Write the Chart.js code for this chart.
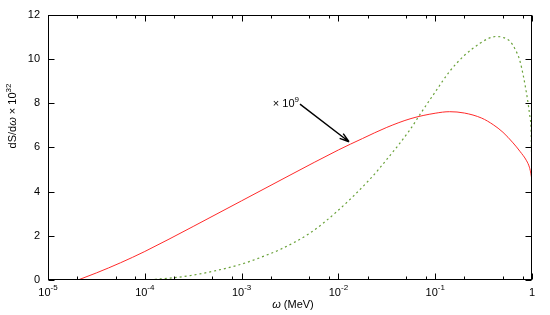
<!DOCTYPE html>
<html>
<head>
<meta charset="utf-8">
<script src="https://cdn.jsdelivr.net/npm/chart.js@4"></script>
<style>
  html, body { margin: 0; padding: 0; background: #fff; }
  #wrap { width: 550px; height: 315px; }
</style>
</head>
<body>
<div id="wrap"><canvas id="chart"></canvas></div>
<script>
// values
const redOmega   = [2.04e-5, 3.16e-5, 5.62e-5, 1e-4, 3.16e-4, 1e-3, 3.16e-3, 1e-2, 1.78e-2, 3.16e-2, 5.62e-2, 0.1, 0.141, 0.2, 0.302, 0.398, 0.501, 0.637, 0.75, 0.879, 0.94, 0.975, 1];
const redValue   = [0, 0.32, 0.78, 1.29, 2.42, 3.58, 4.74, 5.88, 6.4, 6.9, 7.3, 7.54, 7.61, 7.55, 7.32, 7.02, 6.68, 6.2, 5.82, 5.39, 5.1, 4.8, 4.5];
const greenOmega = [1e-4, 1.95e-4, 3.16e-4, 1e-3, 2e-3, 2.5e-3, 5e-3, 9.5e-3, 2.14e-2, 3.16e-2, 5.5e-2, 7e-2, 0.1, 0.142, 0.2, 0.29, 0.355, 0.425, 0.5, 0.593, 0.676, 0.752, 0.881, 0.955, 0.99, 1];
const greenValue = [0, 0.1, 0.22, 0.72, 1.2, 1.38, 2.1, 3.07, 4.58, 5.45, 6.8, 7.5, 8.5, 9.45, 10.15, 10.7, 10.92, 11.01, 10.97, 10.79, 10.4, 9.89, 8.4, 7.34, 5.6, 0];

const xDecades  = [1e-5, 1e-4, 1e-3, 1e-2, 1e-1, 1];
const xExponent = ['-5', '-4', '-3', '-2', '-1', ''];
const xMinor    = [2, 5, 8];
const yTicks    = [0, 2, 4, 6, 8, 10, 12];

// annotation "x 10^9" arrow, in data coordinates
const arrowFrom = { x: 0.00401, y: 7.95 };
const arrowTo   = { x: 0.01287, y: 6.25 };

const FONT = '"Liberation Sans", Arial, sans-serif';

function pts(xs, ys) {
	return xs.map((v, i) => ({ x: v, y: ys[i] }));
}

// draws text made of parts; each part: [text, size, rise, italic]
function drawParts(ctx, parts, x, y, align) {
	let total = 0;
	parts.forEach(p => {
		ctx.font = (p[3] ? 'italic ' : '') + p[1] + 'px ' + FONT;
		total += ctx.measureText(p[0]).width;
	});
	let cx = align === 'center' ? x - total / 2 : (align === 'right' ? x - total : x);
	ctx.textAlign = 'left';
	ctx.textBaseline = 'alphabetic';
	parts.forEach(p => {
		ctx.font = (p[3] ? 'italic ' : '') + p[1] + 'px ' + FONT;
		ctx.fillText(p[0], cx, y - p[2]);
		cx += ctx.measureText(p[0]).width;
	});
}

const framePlugin = {
	id: 'frame',
	afterDatasetsDraw(chart) {
		const ctx = chart.ctx;
		const a = chart.chartArea;
		const xs = chart.scales.x, ys = chart.scales.y;
		const L = Math.round(a.left) + 0.5, R = Math.round(a.right) - 0.5;
		const T = Math.round(a.top) + 0.5, B = Math.round(a.bottom) - 0.5;
		ctx.save();
		ctx.strokeStyle = '#000';
		ctx.lineWidth = 1;
		ctx.strokeRect(L, T, R - L, B - T);

		// inward ticks on all four sides
		ctx.beginPath();
		xDecades.forEach((d, i) => {
			const px = Math.round(xs.getPixelForValue(d)) + 0.5;
			ctx.moveTo(px, B); ctx.lineTo(px, B - 6);
			ctx.moveTo(px, T); ctx.lineTo(px, T + 6);
			if (i < xDecades.length - 1) {
				xMinor.forEach(m => {
					const mx = Math.round(xs.getPixelForValue(d * m)) + 0.5;
					ctx.moveTo(mx, B); ctx.lineTo(mx, B - 3);
					ctx.moveTo(mx, T); ctx.lineTo(mx, T + 3);
				});
			}
		});
		yTicks.forEach(v => {
			const py = Math.round(ys.getPixelForValue(v)) + 0.5;
			ctx.moveTo(L, py); ctx.lineTo(L + 6, py);
			ctx.moveTo(R, py); ctx.lineTo(R - 6, py);
		});
		ctx.stroke();

		// x tick labels
		ctx.fillStyle = '#000';
		xDecades.forEach((d, i) => {
			const px = xs.getPixelForValue(d);
			if (xExponent[i] === '') {
				drawParts(ctx, [['1', 11, 0]], px, a.bottom + 16, 'center');
			} else {
				drawParts(ctx, [['10', 11, 0], [xExponent[i], 8, 6]], px, a.bottom + 16, 'center');
			}
		});

		// axis titles
		drawParts(ctx, [['\u03c9', 11, 0, true], [' (MeV)', 11, 0]], (a.left + a.right) / 2 + 3, a.bottom + 28, 'center');
		ctx.save();
		ctx.translate(16, 116);
		ctx.rotate(-Math.PI / 2);
		drawParts(ctx, [['dS/d', 11, 0], ['\u03c9', 11, 0, true], [' \u00d7 10', 11, 0], ['32', 8, 5]], 0, 0, 'center');
		ctx.restore();

		// annotation
		const x0 = xs.getPixelForValue(arrowFrom.x), y0 = ys.getPixelForValue(arrowFrom.y);
		const x1 = xs.getPixelForValue(arrowTo.x), y1 = ys.getPixelForValue(arrowTo.y);
		ctx.lineWidth = 1.4;
		ctx.beginPath();
		ctx.moveTo(x0, y0); ctx.lineTo(x1, y1);
		const ang = Math.atan2(y1 - y0, x1 - x0);
		[-0.3, 0.3].forEach(da => {
			ctx.moveTo(x1, y1);
			ctx.lineTo(x1 - 10 * Math.cos(ang + da), y1 - 10 * Math.sin(ang + da));
		});
		ctx.stroke();
		drawParts(ctx, [['\u00d7 10', 11, 0], ['9', 8, 5]], x0 - 1, y0 + 3, 'right');
		ctx.restore();
	}
};

new Chart(document.getElementById('chart'), {
	type: 'line',
	data: {
		datasets: [
			{
				data: pts(redOmega, redValue),
				borderColor: '#ff2a2a',
				borderWidth: 1,
				pointRadius: 0,
				cubicInterpolationMode: 'monotone'
			},
			{
				data: pts(greenOmega, greenValue),
				borderColor: '#6aa23a',
				borderWidth: 1.2,
				borderDash: [2, 3],
				pointRadius: 0,
				cubicInterpolationMode: 'monotone'
			}
		]
	},
	options: {
		responsive: true,
		maintainAspectRatio: false,
		animation: false,
		events: [],
		layout: { padding: { top: 13, right: 18, left: 0, bottom: 0 } },
		plugins: { legend: { display: false }, tooltip: { enabled: false } },
		scales: {
			x: {
				type: 'logarithmic',
				min: 1e-5,
				max: 1,
				grid: { display: false, drawTicks: false },
				border: { display: false },
				ticks: { display: false },
				afterBuildTicks: s => { s.ticks = xDecades.map(v => ({ value: v })); },
				afterFit: s => { s.height = 35; }
			},
			y: {
				min: 0,
				max: 12,
				grid: { display: false, drawTicks: false },
				border: { display: false },
				afterBuildTicks: s => { s.ticks = yTicks.map(v => ({ value: v })); },
				ticks: { color: '#000', padding: 8, font: { family: FONT, size: 11 } },
				afterFit: s => { s.width = 48; }
			}
		}
	},
	plugins: [framePlugin]
});
</script>
</body>
</html>
